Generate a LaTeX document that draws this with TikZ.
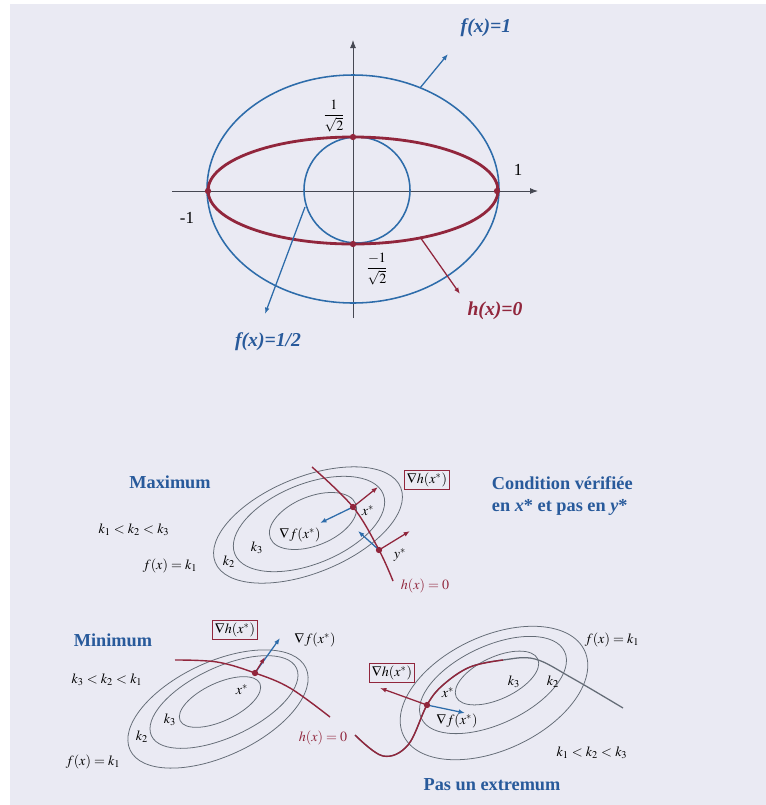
\documentclass[tikz,border=0pt]{standalone}
\usepackage{mathptmx}
\usepackage{fontspec}
\setmainfont{Liberation Serif}
\usetikzlibrary{positioning,arrows.meta,calc}
\definecolor{lgbg}{RGB}{234,234,243}
\definecolor{lgblue}{RGB}{45,108,170}
\definecolor{lgtext}{RGB}{40,90,155}
\definecolor{lgred}{RGB}{145,38,60}
\definecolor{lggray}{RGB}{100,108,118}
\definecolor{lgaxis}{RGB}{70,72,82}
\tikzset{
  lvl/.style={lggray, line width=0.55pt},
  cst/.style={lgred, line width=1pt},
  vecf/.style={-{Latex[length=1.6mm]}, lgblue, line width=0.9pt},
  vech/.style={-{Latex[length=1.6mm]}, lgred, line width=0.9pt},
  ptdot/.style={circle, fill=lgred, inner sep=0pt, minimum size=4.5pt},
  ttl/.style={font=\fontsize{13}{16}\selectfont\bfseries, text=lgtext, align=left},
  lbl/.style={font=\normalsize, inner sep=1pt},
  gbox/.style={draw=lgred, line width=0.6pt, inner sep=2pt, font=\normalsize},
  curvelbl/.style={font=\fontsize{14}{16}\selectfont\bfseries\itshape, inner sep=1pt}
}
\begin{document}
\begin{tikzpicture}[x=0.025cm, y=-0.025cm]
  \useasboundingbox (0,0) rectangle (766,805);
  \fill[white] (0,0) rectangle (766,805);
  \fill[lgbg] (10,4) rectangle (766,805);

  % contraintes et courbes de niveau
  \coordinate (axl) at (172,191);
  \coordinate (axr) at (538,191);
  \coordinate (axb) at (353,318);
  \coordinate (axt) at (353,40);
  \draw[lgaxis, line width=0.7pt, -{Latex[length=2mm]}] (axl) -- (axr);
  \draw[lgaxis, line width=0.7pt, -{Latex[length=2mm]}] (axb) -- (axt);
  \draw[lgblue, line width=1.1pt] (353,189) ellipse [x radius=146, y radius=114];
  \draw[lgblue, line width=1.1pt] (357,190) ellipse [x radius=53, y radius=53];
  \draw[lgred, line width=2pt] (353,190.5) ellipse [x radius=145, y radius=53.5];
  \node[ptdot] (hl) at (208,191) {};
  \node[ptdot] (hr) at (497,191) {};
  \node[ptdot] (ht) at (353,137) {};
  \node[ptdot] (hb) at (353,244) {};
  \node[lbl] (one) at (518,170) {\large 1};
  \node[lbl] (mone) at (187,218) {\large -1};
  \node[lbl] (pinv) at (334,116) {$\displaystyle\frac{1}{\sqrt{2}}$};
  \node[lbl] (minv) at (377,269) {$\displaystyle\frac{-1}{\sqrt{2}}$};

  \coordinate (f1s) at (420,88);
  \coordinate (f1e) at (448,54);
  \coordinate (f2s) at (305,207);
  \coordinate (f2e) at (265,314);
  \coordinate (h0s) at (420,237);
  \coordinate (h0e) at (460,294);
  \draw[vecf] (f1s) -- (f1e);
  \draw[vecf] (f2s) -- (f2e);
  \draw[vech] (h0s) -- (h0e);
  \node[curvelbl, text=lgtext] (f1) at (486,28) {f(x)=1};
  \node[curvelbl, text=lgtext] (f2) at (268,342) {f(x)=1/2};
  \node[curvelbl, text=lgred] (h0) at (495,311) {h(x)=0};

  % maximum
  \node[ttl] (tmax) at (170,482) {Maximum};
  \node[lbl] (kmax) at (134,530) {$k_1<k_2<k_3$};
  \node[lbl] (fmax) at (170,566) {$f(x)=k_1$};
  \draw[lvl, rotate around={22:(308,525)}] (308,525) ellipse [x radius=100, y radius=48];
  \draw[lvl, rotate around={22:(309,524)}] (309,524) ellipse [x radius=80, y radius=40];
  \draw[lvl, rotate around={22:(313,521)}] (313,521) ellipse [x radius=46, y radius=24.5];
  \coordinate (mtop) at (312,467);
  \coordinate (mx) at (353,507);
  \coordinate (my) at (379,550);
  \coordinate (mbot) at (393,581);
  \draw[cst] plot[smooth, tension=0.6] coordinates {(mtop) (mx) (my) (mbot)};
  \coordinate (mxh) at (378,487);
  \coordinate (mxf) at (320,523);
  \coordinate (myh) at (410,531);
  \coordinate (myf) at (358,531);
  \draw[vech] (mx) -- (mxh);
  \draw[vech] (my) -- (myh);
  \draw[vecf] (mx) -- (mxf);
  \draw[vecf] (my) -- (myf);
  \node[ptdot] at (mx) {};
  \node[ptdot] at (my) {};
  \node[lbl] (lmx) at (368,511) {$x^*$};
  \node[lbl] (lmy) at (400,555) {$y^*$};
  \node[lbl] (lmf) at (300,535) {$\nabla f(x^*)$};
  \node[lbl] (lk3) at (257,548) {$k_3$};
  \node[lbl] (lk2) at (229,562) {$k_2$};
  \node[gbox] (gmax) at (427,480) {$\nabla h(x^*)$};
  \node[lbl, text=lgred] (hmax) at (425,586) {$h(x)=0$};
  \node[ttl, anchor=west] (cond) at (487,496) {Condition vérifiée\\en \textit{x}* et pas en \textit{y}*};

  % minimum
  \node[ttl] (tmin) at (113,640) {Minimum};
  \node[lbl] (kmin) at (107,680) {$k_3<k_2<k_1$};
  \node[lbl] (fmin) at (93,762) {$f(x)=k_1$};
  \draw[lvl, rotate around={25:(218,709)}] (218,709) ellipse [x radius=97, y radius=47];
  \draw[lvl, rotate around={25:(224,702)}] (224,702) ellipse [x radius=80, y radius=35];
  \draw[lvl, rotate around={25:(220,702)}] (220,702) ellipse [x radius=44, y radius=19];
  \coordinate (ntop) at (175,660);
  \coordinate (nx) at (255,673);
  \coordinate (nbot) at (330,717);
  \draw[cst] plot[smooth, tension=0.6] coordinates {(ntop) (217,662) (nx) (290,688) (nbot)};
  \coordinate (nxh) at (265,657);
  \coordinate (nxf) at (280,638);
  \draw[vecf] (nx) -- (nxf);
  \draw[vech] (nx) -- (nxh);
  \node[ptdot] at (nx) {};
  \node[lbl] (lnx) at (242,690) {$x^*$};
  \node[lbl] (lnk3) at (170,720) {$k_3$};
  \node[lbl] (lnk2) at (142,737) {$k_2$};
  \node[gbox] (gmin) at (235,630) {$\nabla h(x^*)$};
  \node[lbl] (lnf) at (315,640) {$\nabla f(x^*)$};
  \node[lbl, text=lgred] (hmin) at (323,738) {$h(x)=0$};

  % pas un extremum
  \draw[lvl, rotate around={25:(494,693)}] (494,693) ellipse [x radius=100, y radius=57];
  \draw[lvl, rotate around={25:(493,685)}] (493,685) ellipse [x radius=79, y radius=39];
  \draw[lvl, rotate around={25:(497,678)}] (497,678) ellipse [x radius=45, y radius=21];
  \coordinate (pstart) at (355,735);
  \coordinate (px) at (427,705);
  \coordinate (pend) at (623,708);
  \draw[lggray, line width=0.9pt] plot[smooth, tension=0.6] coordinates {(pstart) (383,756) (408,745) (px) (443,685) (470,667) (503,660) (535,659) (572,678) (pend)};
  \draw[cst] plot[smooth, tension=0.6] coordinates {(pstart) (383,756) (408,745) (px) (443,685) (470,667) (503,660)};
  \coordinate (pxh) at (380,688);
  \coordinate (pxf) at (465,713);
  \draw[vech] (px) -- (pxh);
  \draw[vecf] (px) -- (pxf);
  \node[ptdot] at (px) {};
  \node[lbl] (lpx) at (448,693) {$x^*$};
  \node[lbl] (lpf) at (457,721) {$\nabla f(x^*)$};
  \node[lbl] (lpk3) at (514,682) {$k_3$};
  \node[lbl] (lpk2) at (553,682) {$k_2$};
  \node[lbl] (lpk1) at (612,640) {$f(x)=k_1$};
  \node[gbox] (gpas) at (392,673) {$\nabla h(x^*)$};
  \node[lbl] (kpas) at (592,753) {$k_1<k_2<k_3$};
  \node[ttl] (tpas) at (492,785) {Pas un extremum};
\end{tikzpicture}
\end{document}
